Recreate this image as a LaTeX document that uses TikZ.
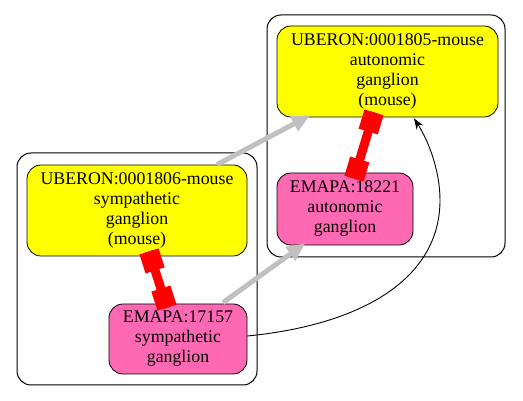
\documentclass[tikz,border=0pt]{standalone}
\usepackage{fontspec}
\setmainfont{Liberation Serif}
\usetikzlibrary{arrows.meta,calc}
\definecolor{nodeyellow}{RGB}{255,255,0}
\definecolor{nodepink}{RGB}{255,105,180}
\definecolor{edgegray}{RGB}{192,192,192}
\begin{document}
\begin{tikzpicture}[x=1pt,y=1pt,
  cluster/.style={draw=black,line width=1pt,rounded corners=14pt,inner sep=0pt},
  box/.style={draw=black,line width=0.8pt,rounded corners=14pt,align=center,inner sep=0pt,font=\fontsize{17.8}{20}\selectfont},
  uberon/.style={box,fill=nodeyellow},
  emapa/.style={box,fill=nodepink},
  redbar/.style={draw=red,line width=9pt},
  redcap/.style={draw=red,line width=20pt},
  grayarrow/.style={draw=edgegray,line width=5pt,-{Triangle[length=18pt,width=16pt]}},
  blackarrow/.style={draw=black,line width=0.9pt,-{Stealth[length=11pt,width=8pt]}}
]
\useasboundingbox (0,0) rectangle (523,401);
\node[cluster,minimum width=240pt,minimum height=232pt] (clA) at (137,132) {};
\node[cluster,minimum width=238pt,minimum height=242pt] (clB) at (386,265) {};

\node[uberon,minimum width=221pt,minimum height=91pt] (u1805) at (387.5,329.5) {UBERON:0001805-mouse\\autonomic\\ganglion\\(mouse)};
\node[emapa,minimum width=136pt,minimum height=72pt] (e18221) at (345,192) {EMAPA:18221\\autonomic\\ganglion};
\node[uberon,minimum width=220pt,minimum height=91pt] (u1806) at (137,190.5) {UBERON:0001806-mouse\\sympathetic\\ganglion\\(mouse)};
\node[emapa,minimum width=138pt,minimum height=70pt] (e17157) at (178,62) {EMAPA:17157\\sympathetic\\ganglion};

% red part-of edges
\path ([shift={(12pt,5pt)}]u1806.south) coordinate (r1s)
      ([shift={(-11pt,-4pt)}]e17157.north) coordinate (r1e);
\draw[redbar] (r1s) -- (r1e);
\draw[redcap] (r1s) -- ($(r1s)!20pt!(r1e)$);
\draw[redcap] (r1e) -- ($(r1e)!20pt!(r1s)$);

\path ([shift={(-13.5pt,5pt)}]u1805.south) coordinate (r2s)
      ([shift={(9pt,-6pt)}]e18221.north) coordinate (r2e);
\draw[redbar] (r2s) -- (r2e);
\draw[redcap] (r2s) -- ($(r2s)!20pt!(r2e)$);
\draw[redcap] (r2e) -- ($(r2e)!20pt!(r2s)$);

% gray edges
\draw[grayarrow] ([xshift=80pt]u1806.north) -- ([shift={(-77.5pt,2pt)}]u1805.south);
\draw[grayarrow] ([shift={(45pt,1pt)}]e17157.north) -- ([shift={(-40pt,2pt)}]e18221.south);

% black edge
\draw[blackarrow] ([yshift=3pt]e17157.east) .. controls (360,76) and (440,121) .. (440,201)
   .. controls (440,231) and (428,261) .. ([shift={(26.5pt,-1pt)}]u1805.south);
\end{tikzpicture}
\end{document}
